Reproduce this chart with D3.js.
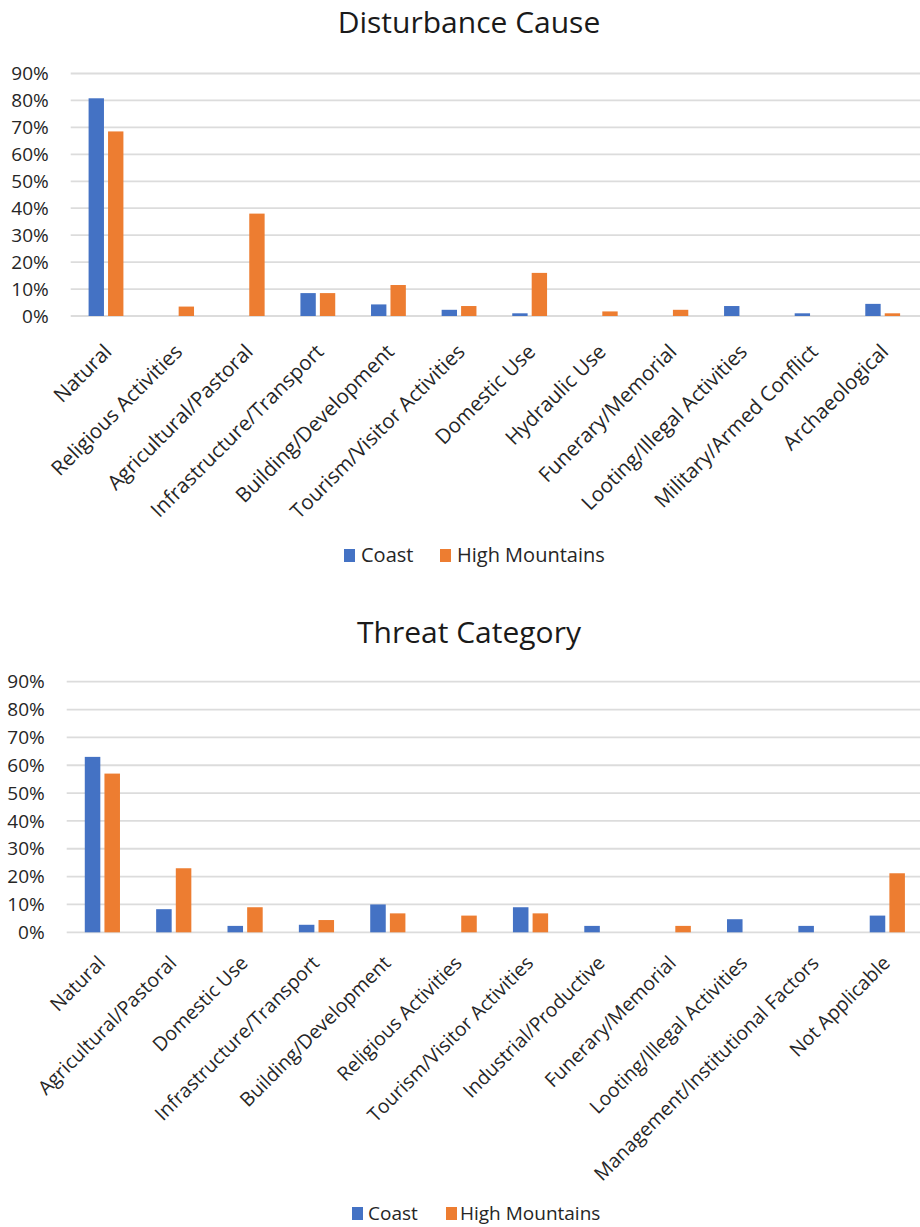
<!DOCTYPE html>
<html>
<head>
<meta charset="utf-8">
<script src="https://cdn.jsdelivr.net/npm/d3@7/dist/d3.min.js"></script>
<style>
  html, body { margin: 0; padding: 0; background: #fff; }
  svg { display: block; }
  text { font-family: "Open Sans", "Noto Sans", sans-serif; fill: #262626; }
</style>
</head>
<body>
<svg id="chart" width="920" height="1227"></svg>
<script>
// Series shared by both panels
const seriesNames = ["Coast", "High Mountains"];
const seriesColors = ["#4472C4", "#ED7D31"];
const yTicks = [0, 0.1, 0.2, 0.3, 0.4, 0.5, 0.6, 0.7, 0.8, 0.9];

// Panel 1: Disturbance Cause (percent of sites)
const disturbanceCategories = [
  "Natural", "Religious Activities", "Agricultural/Pastoral", "Infrastructure/Transport",
  "Building/Development", "Tourism/Visitor Activities", "Domestic Use", "Hydraulic Use",
  "Funerary/Memorial", "Looting/Illegal Activities", "Military/Armed Conflict", "Archaeological"
];
const disturbanceCoast = [80.8, 0, 0, 8.5, 4.3, 2.3, 1.0, 0, 0, 3.7, 1.0, 4.5];
const disturbanceMountains = [68.5, 3.5, 38.0, 8.5, 11.5, 3.7, 16.0, 1.7, 2.3, 0, 0, 1.0];

// Panel 2: Threat Category (percent of sites)
const threatCategories = [
  "Natural", "Agricultural/Pastoral", "Domestic Use", "Infrastructure/Transport",
  "Building/Development", "Religious Activities", "Tourism/Visitor Activities", "Industrial/Productive",
  "Funerary/Memorial", "Looting/Illegal Activities", "Management/Institutional Factors", "Not Applicable"
];
const threatCoast = [63.0, 8.3, 2.3, 2.7, 10.0, 0, 9.0, 2.3, 0, 4.7, 2.3, 6.0];
const threatMountains = [57.0, 23.0, 9.0, 4.4, 6.8, 6.0, 6.8, 0, 2.3, 0, 0, 21.2];

const svg = d3.select("#chart");

function drawPanel(opts) {
  const { title, categories, series, left, right, top, bottom, titleY, legendY, legend,
          labelSize, labelShift, legendSize } = opts;
  const g = svg.append("g");

  const x = d3.scaleBand().domain(categories).range([left, right]).padding(0);
  const xs = d3.scaleBand().domain(seriesNames).range([0, x.bandwidth()])
    .paddingInner(0.21).paddingOuter(0.92);
  const y = d3.scaleLinear().domain([0, 0.9]).range([bottom, top]);

  // title
  g.append("text")
    .attr("x", 469).attr("y", titleY)
    .attr("text-anchor", "middle")
    .style("font-size", "30px")
    .style("fill", "#1a1a1a")
    .text(title);

  // horizontal gridlines
  g.append("g")
    .selectAll("line")
    .data(yTicks)
    .join("line")
    .attr("x1", left).attr("x2", 920)
    .attr("y1", d => y(d)).attr("y2", d => y(d))
    .attr("stroke", "#dcdcdc")
    .attr("stroke-width", 1.8);

  // y axis labels
  const yAxis = d3.axisLeft(y).tickValues(yTicks).tickFormat(d3.format(".0%")).tickSize(0).tickPadding(0);
  const ya = g.append("g").attr("transform", `translate(${left - 22},0)`).call(yAxis);
  ya.select(".domain").remove();
  ya.selectAll("text")
    .style("font-size", "19px")
    .style("font-family", "'Open Sans', sans-serif")
    .attr("fill", "#262626");

  // bars
  const rows = categories.map((c, i) => ({ cat: c, vals: series.map((s, k) => ({ name: seriesNames[k], v: s[i] / 100, k })) }));
  const grp = g.append("g").selectAll("g")
    .data(rows)
    .join("g")
    .attr("transform", d => `translate(${x(d.cat)},0)`);
  grp.selectAll("rect")
    .data(d => d.vals.filter(v => v.v > 0))
    .join("rect")
    .attr("x", d => xs(d.name))
    .attr("width", xs.bandwidth())
    .attr("y", d => y(d.v))
    .attr("height", d => bottom - y(d.v))
    .attr("fill", d => seriesColors[d.k]);

  // category labels, rotated
  const xAxis = d3.axisBottom(x).tickSize(0).tickPadding(0);
  const xa = g.append("g").attr("transform", `translate(0,${bottom})`).call(xAxis);
  xa.select(".domain").remove();
  xa.selectAll("text")
    .style("font-size", labelSize + "px")
    .style("font-family", "'Open Sans', sans-serif")
    .attr("fill", "#262626")
    .attr("text-anchor", "end")
    .attr("dy", null)
    .attr("transform", `translate(${labelShift[0]},${labelShift[1]}) rotate(-45)`);

  // legend
  const lg = g.append("g");
  legend.forEach((item, k) => {
    lg.append("rect")
      .attr("x", item.sx).attr("y", legendY - 13)
      .attr("width", 11).attr("height", 13)
      .attr("fill", seriesColors[k]);
    lg.append("text")
      .attr("x", item.tx).attr("y", legendY)
      .style("font-size", legendSize + "px")
      .text(seriesNames[k]);
  });
}

drawPanel({
  title: "Disturbance Cause",
  categories: disturbanceCategories,
  series: [disturbanceCoast, disturbanceMountains],
  left: 70.7, right: 918, top: 73.5, bottom: 316,
  titleY: 33, legendY: 562,
  labelSize: 20.5, labelShift: [7, 37], legendSize: 20,
  legend: [{ sx: 344, tx: 361 }, { sx: 440, tx: 457 }]
});

drawPanel({
  title: "Threat Category",
  categories: threatCategories,
  series: [threatCoast, threatMountains],
  left: 66.7, right: 923, top: 681.7, bottom: 932.3,
  titleY: 643, legendY: 1220,
  labelSize: 19.5, labelShift: [4, 32], legendSize: 19,
  legend: [{ sx: 352, tx: 368 }, { sx: 446, tx: 460 }]
});
</script>
</body>
</html>
